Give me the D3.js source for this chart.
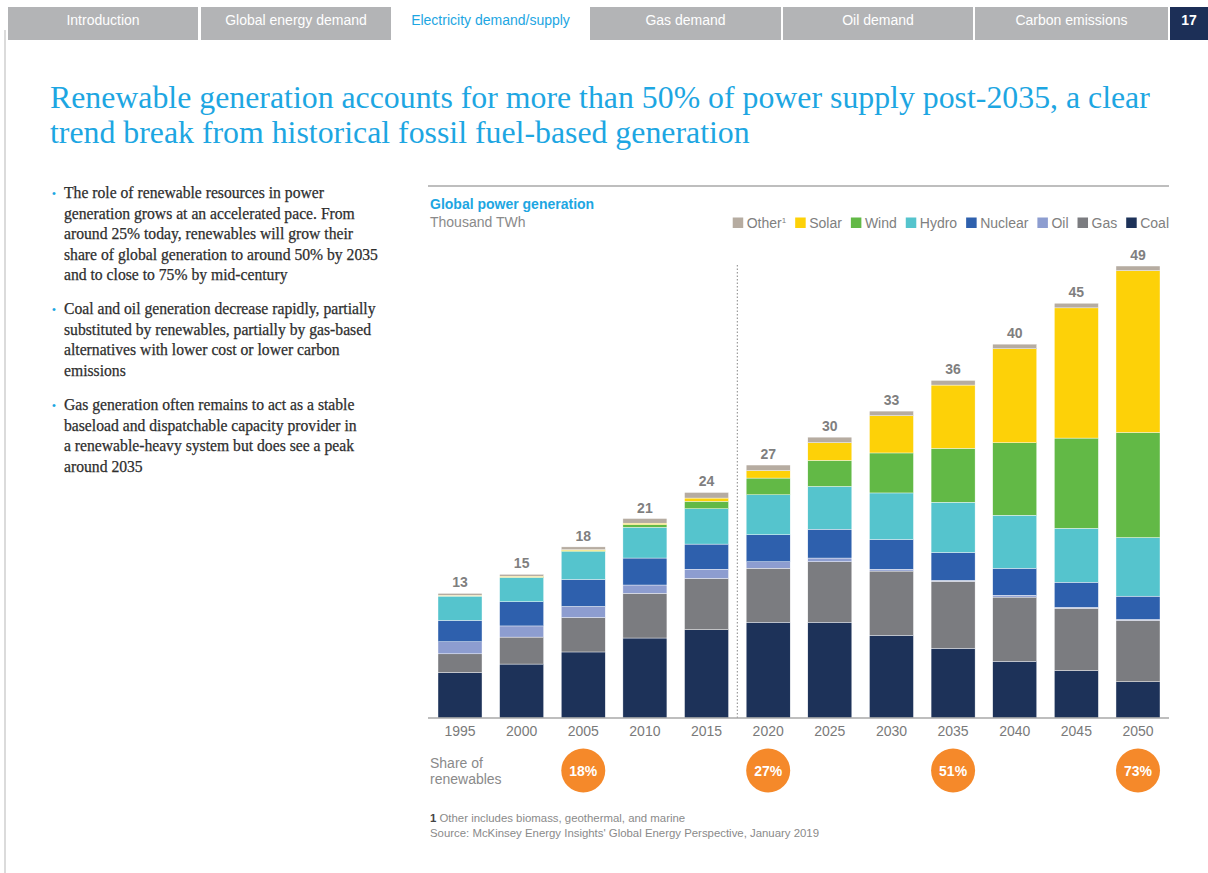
<!DOCTYPE html>
<html>
<head>
<meta charset="utf-8">
<script src="https://cdn.jsdelivr.net/npm/d3@7"></script>
<style>
  html, body { margin: 0; padding: 0; background: #fff; }
  svg { display: block; }
</style>
</head>
<body>
<svg id="page" width="1208" height="873"></svg>
<script>
// Global power generation, thousand TWh, by source
const years   = ["1995","2000","2005","2010","2015","2020","2025","2030","2035","2040","2045","2050"];
const coal    = [4.9, 5.8, 7.1, 8.6, 9.5, 10.3, 10.3, 8.9, 7.5, 6.1, 5.1, 3.9];
const gas     = [2.0, 2.9, 3.7, 4.8, 5.5, 5.8, 6.5, 6.9, 7.2, 6.9, 6.7, 6.6];
const oil     = [1.3, 1.2, 1.2, 0.9, 1.0, 0.7, 0.4, 0.2, 0.1, 0.2, 0.1, 0.1];
const nuclear = [2.3, 2.6, 2.9, 2.9, 2.7, 2.9, 3.1, 3.2, 3.0, 2.9, 2.7, 2.5];
const hydro   = [2.6, 2.6, 3.0, 3.3, 3.8, 4.3, 4.6, 5.0, 5.4, 5.7, 5.8, 6.3];
const wind    = [0.05, 0.05, 0.1, 0.3, 0.8, 1.8, 2.8, 4.3, 5.8, 7.8, 9.7, 11.3];
const solar   = [0.05, 0.1, 0.1, 0.15, 0.35, 0.8, 1.9, 4.0, 6.8, 10.1, 14.0, 17.4];
const other   = [0.2, 0.2, 0.3, 0.5, 0.6, 0.6, 0.6, 0.5, 0.5, 0.5, 0.5, 0.5];

const seriesNames = ["Coal","Gas","Oil","Nuclear","Hydro","Wind","Solar","Other"];
const seriesValues = [coal, gas, oil, nuclear, hydro, wind, solar, other];
const seriesColors = ["#1d3259","#7b7c80","#8d9dd0","#2e60ad","#55c4cd","#62b946","#fdd108","#b6aca1"];
const legendLabels = ["Other","Solar","Wind","Hydro","Nuclear","Oil","Gas","Coal"];

// Share of renewables callouts
const shareYears  = ["2005","2020","2035","2050"];
const shareLabels = ["18%","27%","51%","73%"];

const tabs = ["Introduction","Global energy demand","Electricity demand/supply","Gas demand","Oil demand","Carbon emissions"];
const activeTab = "Electricity demand/supply";
const pageNumber = "17";

const titleLines = [
  "Renewable generation accounts for more than 50% of power supply post-2035, a clear",
  "trend break from historical fossil fuel-based generation"
];
const bullets = [
  ["The role of renewable resources in power",
   "generation grows at an accelerated pace. From",
   "around 25% today, renewables will grow their",
   "share of global generation to around 50% by 2035",
   "and to close to 75% by mid-century"],
  ["Coal and oil generation decrease rapidly, partially",
   "substituted by renewables, partially by gas-based",
   "alternatives with lower cost or lower carbon",
   "emissions"],
  ["Gas generation often remains to act as a stable",
   "baseload and dispatchable capacity provider in",
   "a renewable-heavy system but does see a peak",
   "around 2035"]
];

const BLUE = "#1da6e2";
const SANS = "'Liberation Sans', Arial, Helvetica, sans-serif";
const SERIF = "'Liberation Serif', 'Times New Roman', serif";

const svg = d3.select("#page");

// ---------- navigation bar ----------
const tabX = [8, 201, 393, 590, 783, 975];
const tabW = [190, 190, 195, 191, 190, 193];
const nav = svg.append("g");
tabs.forEach((t, i) => {
  const active = t === activeTab;
  nav.append("rect").attr("x", tabX[i]).attr("y", 7).attr("width", tabW[i]).attr("height", 33)
    .attr("fill", active ? "#ffffff" : "#b3b4b6");
  nav.append("text").attr("x", tabX[i] + tabW[i] / 2).attr("y", 25)
    .attr("text-anchor", "middle").attr("font-family", SANS).attr("font-size", 14)
    .attr("fill", active ? BLUE : "#ffffff").text(t);
});
nav.append("rect").attr("x", 1170).attr("y", 7).attr("width", 38).attr("height", 33).attr("fill", "#1c2f57");
nav.append("text").attr("x", 1189).attr("y", 25).attr("text-anchor", "middle")
  .attr("font-family", SANS).attr("font-size", 14).attr("font-weight", "bold").attr("fill", "#fff").text(pageNumber);

// page left border
svg.append("line").attr("x1", 5).attr("x2", 5).attr("y1", 30).attr("y2", 873)
  .attr("stroke", "#cfcfcf").attr("stroke-width", 1.5);

// ---------- helper: fit text to a width by adjusting font size ----------
function fitWidth(sel, target) {
  const w = sel.node().getComputedTextLength();
  const fs = parseFloat(sel.attr("font-size"));
  sel.attr("font-size", (fs * target / w).toFixed(2));
}

// ---------- title ----------
const t1 = svg.append("text").attr("x", 50).attr("y", 108).attr("font-family", SERIF)
  .attr("font-size", 32).attr("fill", BLUE).text(titleLines[0]);
fitWidth(t1, 1100);
const titleSize = t1.attr("font-size");
svg.append("text").attr("x", 50).attr("y", 143).attr("font-family", SERIF)
  .attr("font-size", titleSize).attr("fill", BLUE).text(titleLines[1]);

// ---------- bullets ----------
const probe = svg.append("text").attr("font-family", SERIF).attr("font-size", 14).text(bullets[0][0]);
fitWidth(probe, 260);
const bodySize = probe.attr("font-size");
probe.remove();
const paraTop = [198, 314, 410];
bullets.forEach((lines, p) => {
  svg.append("text").attr("x", 52).attr("y", paraTop[p] - 1).attr("font-family", SANS)
    .attr("font-size", 11).attr("fill", BLUE).text("•");
  lines.forEach((ln, j) => {
    svg.append("text").attr("x", 64).attr("y", paraTop[p] + j * 20.6)
      .attr("font-family", SERIF).attr("font-size", bodySize)
      .attr("fill", "#2e2e2e").attr("stroke", "#2e2e2e").attr("stroke-width", 0.25).text(ln);
  });
});

// ---------- chart header ----------
svg.append("line").attr("x1", 428).attr("x2", 1169).attr("y1", 186).attr("y2", 186)
  .attr("stroke", "#a9a9a9").attr("stroke-width", 1.5);
svg.append("text").attr("x", 430).attr("y", 209).attr("font-family", SANS).attr("font-size", 14)
  .attr("font-weight", "bold").attr("fill", BLUE).text("Global power generation");
svg.append("text").attr("x", 430).attr("y", 227).attr("font-family", SANS).attr("font-size", 14)
  .attr("fill", "#8a8a8a").text("Thousand TWh");

// legend, right-aligned to the chart edge
const legend = svg.append("g");
const colorOf = d3.scaleOrdinal().domain(seriesNames).range(seriesColors);
let lx = 0;
legendLabels.forEach(name => {
  const g = legend.append("g").attr("transform", `translate(${lx},0)`);
  g.append("rect").attr("x", 0).attr("y", -10).attr("width", 10.5).attr("height", 10.5).attr("fill", colorOf(name));
  const tx = g.append("text").attr("x", 14).attr("y", 0).attr("font-family", SANS).attr("font-size", 14)
    .attr("fill", "#808080").text(name);
  if (name === "Other") tx.append("tspan").attr("font-size", 8).attr("dy", -5).text("1");
  const w = tx.node().getComputedTextLength();
  lx += 14 + w + 9;
});
const legendWidth = lx - 9;
legend.attr("transform", `translate(${1169 - legendWidth},227.5)`);

// ---------- stacked bars ----------
const rows = years.map((y, i) => {
  const r = { year: y };
  seriesNames.forEach((s, k) => r[s] = seriesValues[k][i]);
  return r;
});
const stack = d3.stack().keys(seriesNames)(rows);

const x = d3.scaleBand().domain(years).range([438, 1160]).paddingInner(0.286).paddingOuter(0);
const y = d3.scaleLinear().domain([0, 50]).range([718, 253]);

const chart = svg.append("g");
chart.selectAll("g.series").data(stack).join("g").attr("class", "series")
  .attr("fill", d => colorOf(d.key))
  .selectAll("rect").data(d => d).join("rect")
  .attr("x", d => x(d.data.year))
  .attr("width", x.bandwidth())
  .attr("y", d => y(d[1]))
  .attr("height", d => Math.max(0, y(d[0]) - y(d[1])))
  .attr("stroke", "#ffffff").attr("stroke-width", 0.4);

// totals above bars
const fmt = d3.format(".0f");
chart.selectAll("text.total").data(rows).join("text").attr("class", "total")
  .attr("x", d => x(d.year) + x.bandwidth() / 2)
  .attr("y", d => y(d3.sum(seriesNames, s => d[s])) - 6)
  .attr("text-anchor", "middle").attr("font-family", SANS).attr("font-size", 14)
  .attr("font-weight", "bold").attr("fill", "#7f7f7f")
  .text(d => fmt(d3.sum(seriesNames, s => d[s])));

// historical / projection divider
const divX = (x("2015") + x.bandwidth() + x("2020")) / 2;
chart.append("line").attr("x1", divX).attr("x2", divX).attr("y1", 265).attr("y2", 718)
  .attr("stroke", "#9a9a9a").attr("stroke-width", 1.2).attr("stroke-dasharray", "1.5,2");

// x axis
const xAxis = chart.append("g").attr("transform", "translate(0,718)")
  .call(d3.axisBottom(x).tickSize(0).tickPadding(8));
xAxis.select(".domain").remove();
xAxis.append("line").attr("x1", 428).attr("x2", 1169).attr("stroke", "#a9a9a9").attr("stroke-width", 1.5);
xAxis.selectAll(".tick text").attr("font-family", SANS).attr("font-size", 14).attr("fill", "#7a7a7a");

// ---------- share of renewables ----------
svg.append("text").attr("x", 430).attr("y", 768).attr("font-family", SANS).attr("font-size", 14)
  .attr("fill", "#8a8a8a").text("Share of");
svg.append("text").attr("x", 430).attr("y", 784).attr("font-family", SANS).attr("font-size", 14)
  .attr("fill", "#8a8a8a").text("renewables");
shareYears.forEach((yr, i) => {
  const cx = x(yr) + x.bandwidth() / 2;
  svg.append("circle").attr("cx", cx).attr("cy", 770.5).attr("r", 22).attr("fill", "#f5892a");
  svg.append("text").attr("x", cx).attr("y", 775.5).attr("text-anchor", "middle")
    .attr("font-family", SANS).attr("font-size", 14).attr("font-weight", "bold").attr("fill", "#fff")
    .text(shareLabels[i]);
});

// ---------- footnotes ----------
const fn = svg.append("text").attr("x", 430).attr("y", 822).attr("font-family", SANS).attr("font-size", 11.4)
  .attr("fill", "#8a8a8a");
fn.append("tspan").attr("font-weight", "bold").attr("fill", "#444").text("1");
fn.append("tspan").text(" Other includes biomass, geothermal, and marine");
svg.append("text").attr("x", 430).attr("y", 837).attr("font-family", SANS).attr("font-size", 11.4)
  .attr("fill", "#8a8a8a").text("Source: McKinsey Energy Insights' Global Energy Perspective, January 2019");
</script>
</body>
</html>
